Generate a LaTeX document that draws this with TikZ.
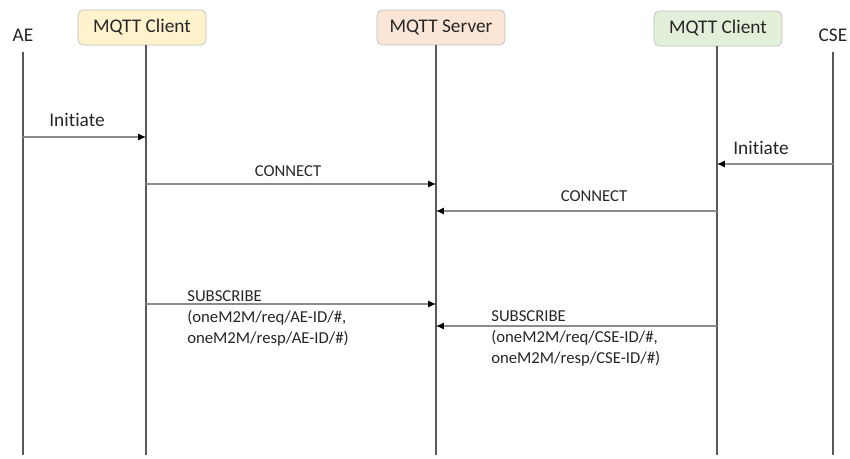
\documentclass[tikz,border=0pt]{standalone}
\usepackage{fontspec}
\setmainfont[Ligatures={NoCommon}]{Carlito}
\usetikzlibrary{positioning,arrows.meta}

\definecolor{clientyellow}{HTML}{FFF2CC}
\definecolor{serverpeach}{HTML}{FBE5D6}
\definecolor{clientgreen}{HTML}{E2F0D9}
\definecolor{textgrey}{HTML}{262626}

\begin{document}
\begin{tikzpicture}[x=0.02cm,y=-0.02cm]
		% Styles for heads, lifelines and messages
		\tikzset{
			head/.style={draw=black!25, rounded corners=3pt, minimum width=2.56cm, minimum height=0.7cm, inner sep=0pt, font=\fontsize{11}{13}\selectfont, text=textgrey},
			actor/.style={font=\fontsize{11}{13}\selectfont, text=textgrey},
			life/.style={draw=black!65, line width=1pt},
			msg/.style={draw=black!45, line width=0.6pt, -{Latex[length=4.5pt,width=4pt,black]}},
			lbl/.style={font=\fontsize{9.5}{11.9}\selectfont, text=textgrey, inner sep=0pt},
		}
		\useasboundingbox (0,0) rectangle (850,458);
		
		% Participants
		\node[actor] (ae) at (23,35) {AE};
		\node[head, fill=clientyellow] (cli1) at (142,27.5) {MQTT Client};
		\node[head, fill=serverpeach] (srv) at (441,27.5) {MQTT Server};
		\node[head, fill=clientgreen] (cli2) at (718,28.5) {MQTT Client};
		\node[actor] (cse) at (833,35) {CSE};
		
		% Lifelines
		\coordinate (l0) at (23,52);
		\coordinate (l1) at (146,45);
		\coordinate (l2) at (436,45);
		\coordinate (l3) at (717,46);
		\coordinate (l4) at (833,52);
		\foreach \l in {l0,l1,l2,l3,l4}
			\draw[life] (\l) -- (\l |- 0,455);
		
		% Initiate
		\draw[msg] (l0 |- 0,137) -- (l1 |- 0,137);
		\node[lbl, font=\fontsize{11}{13}\selectfont] (init1) at (77,120) {Initiate};
		\draw[msg] (l4 |- 0,164) -- (l3 |- 0,164);
		\node[lbl, font=\fontsize{11}{13}\selectfont] (init2) at (761,148) {Initiate};
		
		% CONNECT
		\draw[msg] (l1 |- 0,184) -- (l2 |- 0,184);
		\node[lbl] (con1) at (288,171) {CONNECT};
		\draw[msg] (l3 |- 0,211) -- (l2 |- 0,211);
		\node[lbl] (con2) at (594,196) {CONNECT};
		
		% SUBSCRIBE
		\draw[msg] (l1 |- 0,304) -- (l2 |- 0,304);
		\node[lbl, align=left, anchor=north west] (sub1) at (187,290.5) {SUBSCRIBE\\(oneM2M/req/AE-ID/\#,\\oneM2M/resp/AE-ID/\#)};
		\draw[msg] (l3 |- 0,326) -- (l2 |- 0,326);
		\node[lbl, align=left, anchor=north west] (sub2) at (491,310.5) {SUBSCRIBE\\(oneM2M/req/CSE-ID/\#,\\oneM2M/resp/CSE-ID/\#)};
	\end{tikzpicture}
\end{document}
